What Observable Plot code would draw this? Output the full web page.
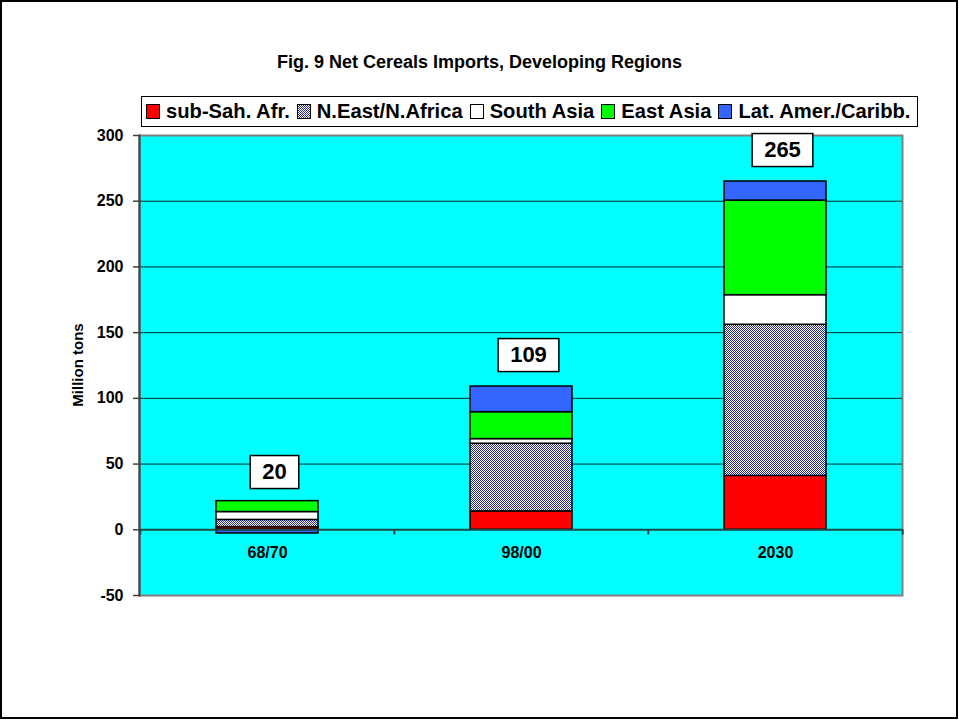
<!DOCTYPE html>
<html>
<head>
<meta charset="utf-8">
<script src="https://cdn.jsdelivr.net/npm/d3@7"></script>
<script src="https://cdn.jsdelivr.net/npm/@observablehq/plot@0.6"></script>
<style>
  html, body { margin: 0; padding: 0; background: #fff; }
  #wrap { position: relative; width: 959px; height: 720px; overflow: hidden; font-family: "Liberation Sans", Arial, sans-serif; }
  #border { position: absolute; left: 0; top: 0; width: 958px; height: 719px; box-sizing: border-box; border: 2px solid #000; pointer-events: none; }
  #title { position: absolute; left: 0; width: 959px; top: 51px; text-align: center; font-weight: bold; font-size: 18px; line-height: 22px; }
  #legend { position: absolute; left: 141px; top: 96px; width: 777px; height: 31px; box-sizing: border-box; border: 1px solid #000; background: #fff; display: flex; align-items: center; padding-left: 4px; font-weight: bold; font-size: 20.2px; white-space: nowrap; }
  .item { display: flex; align-items: center; margin-right: 7px; }
  .sw { width: 14px; height: 15px; border: 1px solid #000; margin-right: 6px; box-sizing: border-box; }
  #ylabel { position: absolute; left: 77px; top: 365px; transform: translate(-50%, -50%) rotate(-90deg); font-weight: bold; font-size: 15px; white-space: nowrap; }
  #chart { position: absolute; left: 0; top: 0; }
</style>
</head>
<body>
<div id="wrap">
  <div id="chart"></div>
  <div id="title"></div>
  <div id="legend"></div>
  <div id="ylabel"></div>
  <div id="border"></div>
</div>
<script>
const titleText = "Fig. 9 Net Cereals Imports, Developing Regions";
const yLabelText = "Million tons";
const periods = ["68/70", "98/00", "2030"];
const regions = ["sub-Sah. Afr.", "N.East/N.Africa", "South Asia", "East Asia", "Lat. Amer./Caribb."];
const subSahAfr = [2, 14, 41];
const nEastNAfrica = [5.5, 51.5, 115];
const southAsia = [6, 3.5, 22.5];
const eastAsia = [8.3, 20.5, 72];
const latAmerCaribb = [-2.8, 19.5, 14.5];
const totals = [20, 109, 265];
const yTicks = [-50, 0, 50, 100, 150, 200, 250, 300];
const gridTicks = [50, 100, 150, 200, 250];
const regionColors = ["#ff0000", "url(#neFill)", "#ffffff", "#00ff00", "#3366ff"];

const seriesValues = [subSahAfr, nEastNAfrica, southAsia, eastAsia, latAmerCaribb];
const data = [];
regions.forEach((r, ri) => periods.forEach((p, pi) => data.push({region: r, period: p, value: seriesValues[ri][pi]})));
const totalData = periods.map((p, i) => ({period: p, total: totals[i]}));

const W = 959, H = 720, ML = 139, MR = 57, MT = 135, MB = 125;
const step = (W - ML - MR) / periods.length;

const plot = Plot.plot({
  width: W, height: H,
  marginLeft: ML, marginRight: MR, marginTop: MT, marginBottom: MB,
  style: {fontFamily: "'Liberation Sans', Arial, sans-serif", background: "transparent", overflow: "visible"},
  x: {domain: periods, type: "band", paddingInner: 0.6, paddingOuter: 0.3, axis: null},
  y: {domain: [-50, 300], axis: null},
  color: {domain: regions, range: regionColors, type: "ordinal"},
  marks: [
    Plot.frame({fill: "#00ffff", stroke: "#808080", strokeWidth: 2}),
    Plot.ruleY(gridTicks, {stroke: "#000", strokeWidth: 1, strokeOpacity: 0.85}),
    Plot.frame({anchor: "left", stroke: "#404040", strokeWidth: 2}),
    Plot.axisY(yTicks, {tickSize: 6, tickPadding: 10, fontSize: 16, fontWeight: "bold", label: null, tickFormat: d => String(d), stroke: "#404040", strokeWidth: 1.5, fill: "#000"}),
    Plot.barY(data, {x: "period", y: "value", fill: "region", stroke: "#000", strokeWidth: 1.5}),
    Plot.ruleY([0], {stroke: "#1a4a4a", strokeWidth: 2}),
    Plot.ruleX(periods, {x: d => d, y1: 0, y2: -4, dx: -step / 2, stroke: "#1a4a4a", strokeWidth: 2}),
    Plot.ruleX([periods[periods.length - 1]], {x: d => d, y1: 0, y2: -4, dx: step / 2, stroke: "#1a4a4a", strokeWidth: 2}),
    Plot.text(periods, {x: d => d, y: 0, dy: 23, text: d => d, fontSize: 16, fontWeight: "bold", fill: "#000"}),
    Plot.text(totalData, {x: "period", y: "total", text: d => String(d.total), dy: -32, dx: 7, fontSize: 22, fontWeight: "bold", fill: "#000"})
  ]
});

document.getElementById("chart").appendChild(plot);

// pattern for N.East/N.Africa
const svg = d3.select(plot);
const defs = svg.insert("defs", ":first-child");
const pat = defs.append("pattern").attr("id", "neFill").attr("patternUnits", "userSpaceOnUse").attr("width", 2).attr("height", 2);
pat.append("rect").attr("width", 2).attr("height", 2).attr("fill", "#ffffff");
pat.append("rect").attr("width", 1).attr("height", 1).attr("fill", "#2a2a9a");
pat.append("rect").attr("x", 1).attr("y", 1).attr("width", 1).attr("height", 1).attr("fill", "#2a2a9a");

// white boxes behind total labels (last text mark group)
const textGroups = svg.selectAll('g[aria-label="text"]').nodes();
const totalsGroup = textGroups[textGroups.length - 1];
const boxes = d3.select(totalsGroup.parentNode).insert("g", () => totalsGroup);
d3.select(totalsGroup).selectAll("text").each(function() {
  const b = this.getBBox();
  const m = this.getCTM();
  const pm = totalsGroup.parentNode.getCTM();
  const cx = b.x + b.width / 2 + (m.e - pm.e), cy = b.y + b.height / 2 + (m.f - pm.f);
  const w = b.width + 24, h = 33;
  boxes.append("rect").attr("x", cx - w / 2).attr("y", cy - h / 2 + 1).attr("width", w).attr("height", h)
    .attr("fill", "#fff").attr("stroke", "#000").attr("stroke-width", 1.5);
});

document.getElementById("title").textContent = titleText;
document.getElementById("ylabel").textContent = yLabelText;
const legend = d3.select("#legend");
regions.forEach((r, i) => {
  const it = legend.append("div").attr("class", "item");
  const sw = it.append("div").attr("class", "sw");
  if (i === 1) {
    sw.style("background", "repeating-conic-gradient(#2a2a9a 0% 25%, #ffffff 0% 50%) 0 0 / 2px 2px");
  } else {
    sw.style("background", regionColors[i]);
  }
  it.append("span").text(r);
});
</script>
</body>
</html>
